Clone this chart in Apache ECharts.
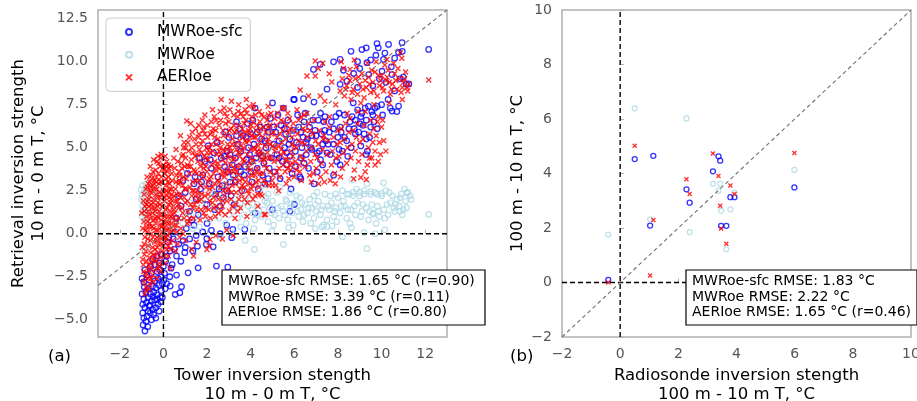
<!DOCTYPE html>
<html>
<head>
<meta charset="utf-8">
<script src="https://cdn.jsdelivr.net/npm/echarts@6/dist/echarts.min.js"></script>
<style>
html,body{margin:0;padding:0;background:#fff;}
#chart{width:917px;height:401px;}
</style>
</head>
<body>
<div id="chart"></div>
<script>
// ---------- tick labels ----------
const xTicksA = [-2, 0, 2, 4, 6, 8, 10, 12];
const yTicksA = [-5, -2.5, 0, 2.5, 5, 7.5, 10, 12.5];
const legendNames = ['MWRoe-sfc', 'MWRoe', 'AERIoe'];
const statsA = ['MWRoe-sfc RMSE: 1.65 °C (r=0.90)', 'MWRoe RMSE: 3.39 °C (r=0.11)', 'AERIoe RMSE: 1.86 °C (r=0.80)'];
const statsB = ['MWRoe-sfc RMSE: 1.83 °C', 'MWRoe RMSE: 2.22 °C', 'AERIoe RMSE: 1.65 °C (r=0.46)'];

// ---------- panel (a): tower vs retrieval ----------
const sfcA = [
[-0.85,-5.65],[-0.93,-5.3],[-0.8,-5.1],[-0.9,-4.9],[-0.75,-4.8],[-0.95,-4.6],[-0.7,-4.5],[-0.85,-4.3],[-0.6,-4.6],[-0.5,-4.4],[-0.95,-4.1],[-0.78,-4.0],[-0.62,-4.15],[-0.45,-4.7],[-0.35,-4.3],[-0.9,-3.8],[-0.7,-3.7],[-0.55,-3.9],[-0.4,-3.85],[-0.25,-4.1],[-0.15,-3.7],[-0.98,-3.5],[-0.8,-3.4],[-0.6,-3.5],[-0.45,-3.4],[-0.3,-3.55],[-0.1,-3.3],[-0.05,-3.7],[-0.88,-3.1],[-0.7,-3.2],[-0.5,-3.05],[-0.35,-3.15],[-0.2,-3.0],[-0.05,-2.9],[-0.9,-2.8],[-0.65,-2.7],[-0.4,-2.75],[-0.25,-2.6],[-0.1,-2.5],[0.02,-2.7],[-0.75,-2.4],[-0.55,-2.3],[-0.3,-2.2],[-0.15,-2.1],[0.05,-2.3],[-0.6,-1.9],[-0.4,-1.8],[-0.2,-1.7],[0.0,-1.9],[0.1,-1.6],[-0.5,-1.5],[-0.3,-1.3],[-0.1,-1.2],[0.15,-1.3],[-0.85,-2.1],[-0.98,-2.6],[-0.35,-4.9],[-0.55,-5.0],[-0.72,-5.4],[-0.2,-4.5],[-0.12,-3.95],[0.08,-3.2],[-0.65,-4.2],[-0.47,-3.65],[-0.28,-3.8],
[0.29,-2.5],[0.75,-3.43],[0.83,-3.08],[0.54,-3.53],[0.31,-3.04],[0.6,-1.3],[0.98,-1.1],[1.13,-2.27],[1.59,-1.98],[2.43,-1.88],[2.95,-1.94],[1.56,-0.72],[1.97,-0.62],[2.28,-0.76],[3.18,0.25],[3.73,0.25],[3.13,-0.23],[1.99,-0.29],[0.4,-1.8],[0.5,-0.9],[0.7,-0.6],[0.9,-0.4],[1.2,-0.3],[1.5,-0.1],[1.8,0.1],[2.2,0.2],[2.6,0.0],[0.3,-1.0],[0.2,-0.5],[0.45,-0.3],[0.8,-1.6],[1.0,-0.8],[1.35,-1.0],[0.35,-2.0],[0.6,-2.4],[0.15,-2.9],[0.25,-0.2],[0.55,0.1],[1.05,0.3],[1.4,0.5],[2.0,0.6],[2.9,0.5],[4.2,1.2],[5.0,1.4],[5.8,1.3],[6.0,1.7],
[0.6,0.9],[0.8,1.6],[1.0,2.4],[1.2,1.3],[1.4,2.9],[0.9,3.1],[1.3,0.8],[1.5,2.0],[0.7,2.2],[1.1,3.5],[1.45,3.3],
[1.6,1.1],[1.7,2.6],[1.8,3.4],[1.9,4.2],[2.0,1.7],[2.1,2.9],[2.2,3.8],[2.3,4.7],[2.4,2.3],[2.5,3.3],[1.65,4.4],[2.05,5.1],[2.35,1.4],[1.75,3.0],[2.15,4.3],[2.45,5.3],
[2.6,1.6],[2.7,2.8],[2.8,3.9],[2.9,4.8],[3.0,5.6],[3.1,2.2],[3.2,3.4],[3.3,4.4],[3.4,5.2],[3.5,6.1],[2.65,4.4],[2.85,5.9],[3.05,3.0],[3.25,1.7],[3.45,3.9],[2.75,2.1],[3.15,4.0],[3.35,6.5],[2.95,3.6],[3.55,4.8],
[3.6,2.5],[3.7,3.4],[3.8,4.3],[3.9,5.0],[4.0,5.8],[4.1,6.6],[4.2,7.3],[4.3,3.8],[4.4,4.7],[4.5,5.5],[3.65,5.7],[3.85,6.4],[4.05,3.0],[4.25,4.4],[4.45,6.2],[3.75,3.9],[4.15,5.2],[4.35,2.6],[3.95,4.6],[4.55,3.4],
[4.6,4.1],[4.7,5.0],[4.8,5.9],[4.9,6.7],[5.0,7.6],[5.1,3.6],[5.2,4.6],[5.3,5.4],[5.4,6.3],[5.5,7.3],[4.65,2.9],[4.85,3.8],[5.05,5.2],[5.25,6.9],[5.45,4.2],[4.75,6.2],[5.15,5.9],[5.35,3.2],[4.95,4.4],[5.55,5.0],
[5.6,5.8],[5.7,6.6],[5.8,4.5],[5.9,3.5],[6.0,7.8],[6.1,5.3],[6.2,6.2],[6.3,4.4],[6.4,5.6],[6.5,7.0],[5.65,4.0],[5.85,2.6],[6.05,4.8],[6.25,3.3],[6.45,6.5],[5.75,5.2],[6.15,6.9],[6.35,5.0],[5.95,6.0],[6.55,4.6],
[6.6,5.5],[6.7,6.2],[6.8,4.9],[6.9,2.9],[7.0,5.7],[7.1,6.6],[7.2,4.3],[7.3,5.2],[7.4,6.0],[7.5,4.7],[6.65,3.8],[6.85,6.6],[7.05,3.6],[7.25,5.8],[7.45,5.4],[6.75,5.0],[7.15,4.8],[7.35,6.5],
[7.6,5.9],[7.7,6.5],[7.8,5.2],[7.9,6.8],[8.0,5.6],[8.1,6.2],[8.2,4.8],[8.3,6.9],[8.4,5.4],[8.5,6.1],[8.6,5.0],[8.7,7.6],[8.8,6.6],[8.9,7.2],[9.0,6.4],[9.1,7.0],[9.2,5.8],[9.3,6.6],[9.4,7.4],[9.5,6.2],[9.6,6.9],[9.7,7.3],[9.8,7.4],[10.0,7.5],[10.3,7.8],[10.7,7.1],[7.65,4.6],[8.15,5.9],[8.65,6.8],[9.15,6.3],[9.45,5.6],[8.05,7.0],[8.45,4.5],[9.05,5.1],[9.35,4.8],[7.95,4.2],
[7.8,3.4],[9.3,4.6],[8.1,4.0],[6.3,3.2],
[2.55,2.6],[2.8,4.5],[3.05,4.6],[3.3,3.0],[3.55,3.6],[3.8,5.6],[4.05,4.2],[4.3,5.9],[4.55,4.5],[4.8,3.2],[5.05,6.2],[5.3,4.4],[5.55,6.1],[5.8,5.5],[6.05,3.9],[6.3,5.9],[6.55,5.3],[6.8,5.7],[7.05,4.7],[7.3,4.0],[7.55,5.2],[7.8,6.1],[8.05,4.9],[8.3,5.6],[8.55,6.5],[8.8,5.8],[9.05,6.8],[9.3,5.5],[9.55,7.1],[9.8,6.1],[10.05,6.9],[10.4,7.3],[8.75,6.1],[9.25,7.3],[9.65,6.5],[8.95,5.9],[7.4,6.8],[6.95,6.0],[6.45,4.1],[5.65,4.7],[4.65,5.4],[4.0,3.6],[3.35,5.7],[2.9,2.5],
[9.79,11.05],[10.32,11.0],[10.94,11.1],[12.16,10.71],[9.1,10.7],[9.3,10.8],[9.74,10.37],[8.1,10.13],[7.8,9.99],[8.9,10.0],[9.33,9.94],[10.09,10.13],[10.78,10.53],[11.13,8.68],[11.25,8.7],[10.78,7.42],[10.48,7.13],[6.88,9.55],[7.19,9.84],[6.42,7.85],[5.97,7.8],[8.1,8.68],[8.41,8.87],[8.72,9.31],[9.41,9.25],[10.02,9.44],[10.48,9.25],[8.9,8.5],[10.6,10.2],[10.85,9.0],[10.2,8.8],[9.6,8.6],[9.9,9.0],[10.45,9.7],[11.0,9.1],[8.6,10.6],[9.0,9.6],[10.6,8.3],[9.5,10.1],[8.25,9.5],[10.95,10.6],[9.85,10.8],[10.15,10.5],[7.5,8.4],[6.9,7.65],[7.2,7.0]
];

const mwrA = [
[-0.95,2.8],[-0.9,2.4],[-1.0,2.0],[-0.95,1.6],[-0.9,1.2],[-0.85,0.9],[-0.8,2.9],[-0.75,2.1],[-0.8,1.5],[-0.7,1.0],[-0.65,2.6],[-0.6,1.8],[-0.55,0.7],[-0.5,2.3],[-0.45,1.3],[-0.4,2.9],[-0.35,1.9],[-0.3,1.0],[-0.25,2.5],[-0.2,1.5],[-0.15,3.0],[-0.1,2.2],[-0.05,1.2],[0.0,2.7],[0.05,1.7],[-0.98,2.2],[-0.88,1.85],[-0.92,1.4],[-0.78,2.55],[-0.68,1.35],[-1.02,2.55],[-0.97,1.0],
[0.3,0.9],[0.6,1.4],[0.9,0.6],[1.2,1.8],[1.5,1.0],[1.8,2.2],[2.1,0.8],[2.4,1.5],[2.7,2.0],[3.0,1.1],[0.45,2.0],[1.05,1.2],[1.65,0.4],[2.25,2.4],[2.85,0.6],[0.2,0.3],[0.75,0.2],[1.35,0.3],[1.95,1.6],[2.55,0.9],
[3.2,1.3],[3.4,0.9],[3.5,1.8],[3.6,2.3],[3.7,1.1],[3.8,0.6],[3.9,1.6],[4.0,2.0],[4.1,1.2],[4.2,0.8],[4.3,1.7],[4.4,2.5],[4.5,1.0],[4.6,1.4],[4.7,2.1],[4.8,0.7],[4.9,1.5],[5.0,1.9],[5.1,1.1],[5.2,2.4],[5.3,0.9],[5.4,1.6],[5.5,1.3],[5.6,2.0],[5.7,0.8],[5.8,1.5],[5.9,1.2],[6.0,1.8],[6.1,2.2],[6.2,1.0],[6.3,1.4],[6.4,0.7],[6.5,1.7],[6.6,1.2],[6.7,2.0],[6.8,1.5],[6.9,0.9],[7.0,1.3],[7.1,1.9],[7.2,1.1],[7.3,1.6],[7.4,2.3],[7.5,0.8],[7.6,1.4],[7.7,1.8],[7.8,1.0],[7.9,1.5],[8.0,2.1],[8.1,1.2],[8.2,2.5],[8.3,1.6],[8.4,0.9],[8.5,2.3],[8.6,1.4],[8.7,2.4],[8.8,1.1],[8.9,1.8],[9.0,2.2],[9.1,1.3],[9.2,2.5],[9.3,1.5],[9.4,0.8],[9.5,2.3],[9.6,1.2],[9.7,2.4],[9.8,1.6],[9.9,1.0],[10.0,2.2],[10.1,1.4],[10.2,2.5],[10.3,1.1],[10.4,1.8],[10.5,2.2],[10.6,1.3],[10.7,2.0],[10.8,1.6],[10.9,2.3],[11.0,1.4],[11.1,1.9],[11.2,2.4],[11.3,2.2],
[3.3,2.0],[3.55,0.4],[3.85,2.7],[4.15,0.3],[4.55,2.8],[4.75,1.8],[5.05,0.5],[5.35,2.7],[5.65,1.9],[5.95,0.5],[6.27,2.1],[6.45,1.1],[6.75,0.6],[7.05,2.4],[7.35,0.5],[7.65,2.2],[7.95,0.7],[8.25,1.9],[8.64,3.12],[8.55,0.6],[8.85,2.6],[9.05,1.0],[9.33,2.9],[9.55,1.7],[9.75,0.6],[10.09,2.96],[10.35,2.4],[10.65,1.7],[10.85,2.1],[11.16,2.38],[10.95,1.1],[11.05,2.6],[8.4,2.3],[8.7,2.2],[9.0,2.4],[9.2,2.3],[9.5,2.45],[9.8,2.3],[10.0,2.35],[9.62,1.14],[10.15,0.9],
[3.45,1.5],[3.75,1.9],[4.05,1.4],[4.35,1.1],[4.65,1.9],[4.95,1.2],[5.25,1.5],[5.55,1.1],[5.85,1.7],[6.15,1.3],[6.35,1.8],[6.65,1.5],[6.95,1.7],[7.25,1.4],[7.55,1.6],[7.85,1.3],[8.15,1.6],[8.45,1.4],[8.75,1.6],[9.15,1.7],[9.45,1.3],[9.85,1.3],[10.25,1.7],[10.55,1.5],[10.85,1.3],[11.15,1.5],[11.35,2.0],[4.8,2.3],[5.8,2.4],[6.9,2.2],[7.9,2.3],
[4.17,-0.91],[5.5,-0.62],[9.33,-0.87],[8.21,-0.17],[9.71,0.0],[3.75,-0.39],[4.97,0.15],[5.74,0.35],[6.96,0.3],[7.27,0.4],[7.5,0.42],[7.73,0.45],[8.62,0.35],[9.2,0.07],[10.15,0.23],[12.16,1.12],[2.6,-0.2],[3.1,0.1]
];

const aerA = [
[-0.85,-3.5],[-0.8,-3.1],[-0.9,-2.8],[-0.7,-2.6],[-0.75,-2.3],[-0.6,-2.0],[-0.5,-2.4],[-0.4,-2.1],[-0.3,-2.6],[-0.2,-1.9],[-0.55,-1.7],[-0.65,-1.4],[-0.45,-1.2],[-0.35,-1.6],[-0.25,-1.1],[-0.15,-1.4],[-0.05,-1.0],[0.05,-1.3],[0.15,-0.9],[-0.8,-1.0],[-0.7,-0.7],[-0.6,-0.4],[-0.5,-0.8],[-0.4,-0.5],[-0.3,-0.2],[-0.2,-0.6],[-0.1,-0.3],[0.0,-0.7],[0.1,-0.4],[0.2,-0.1],[0.3,-0.5],[-0.85,-0.2],[-0.75,0.1],[-0.65,0.4],[-0.55,0.0],[-0.45,0.3],[-0.35,0.6],[-0.25,0.2],[-0.15,0.5],[-0.05,0.1],[0.05,0.4],[0.15,0.7],[0.25,0.3],[0.35,0.6],[0.45,0.2],[-0.9,0.7],[-0.8,1.0],[-0.7,1.3],[-0.6,0.9],[-0.5,1.2],[-0.4,1.5],[-0.3,1.0],[-0.2,1.3],[-0.1,0.8],[0.0,1.1],[0.1,1.4],[0.2,1.0],[0.3,1.3],[0.4,0.9],[0.5,1.2],[-0.85,1.6],[-0.75,1.9],[-0.65,2.2],[-0.55,1.7],[-0.45,2.0],[-0.35,2.3],[-0.25,1.8],[-0.15,2.1],[-0.05,1.6],[0.05,1.9],[0.15,2.2],[0.25,1.7],[0.35,2.0],[0.45,1.6],[0.55,1.9],[-0.8,2.6],[-0.7,2.9],[-0.6,2.5],[-0.5,2.8],[-0.4,3.1],[-0.3,2.6],[-0.2,2.9],[-0.1,3.3],[0.0,2.5],[0.1,2.8],[0.2,3.0],[0.3,2.6],[-0.55,3.4],[-0.35,3.7],[-0.15,3.9],[0.05,3.5],[0.25,3.8],[-0.45,4.3],[-0.25,4.5],[0.15,4.2],[-0.6,3.9],[0.0,4.0],[-0.75,3.3],[0.4,3.1],[-0.95,-1.5],[-0.95,0.3],[-1.0,1.2],[-0.9,-2.2],[-0.78,-3.3],[-0.62,-2.9],[-0.12,-2.2],[0.08,-1.7],[0.22,-1.3],[0.32,-2.0],[0.55,-1.0],[0.65,-0.6],[0.75,-0.2],[0.6,0.5],[0.7,0.9],[0.8,0.3],[0.9,0.0],[1.0,-0.4],[1.1,0.6],
[-0.82,-2.5],[-0.68,-1.8],[-0.58,-1.1],[-0.48,-0.2],[-0.38,0.9],[-0.28,1.6],[-0.18,2.4],[-0.08,3.0],[0.02,3.7],[0.12,3.2],[0.22,2.4],[0.32,1.8],[0.42,1.1],[0.52,0.5],[0.62,0.1],[-0.72,-0.3],[-0.62,0.6],[-0.52,1.5],[-0.42,2.6],[-0.32,3.3],[-0.22,4.1],[-0.12,4.4],[0.08,4.5],[0.18,3.6],[0.28,2.9],[0.38,2.3],[0.48,1.4],[0.58,0.8],[0.68,1.7],[0.78,2.1],[0.88,2.8],[0.98,3.9],[-0.88,-0.6],[-0.78,0.4],[-0.68,1.6],[-0.58,2.7],[-0.48,3.6],[-0.38,-1.3],[-0.28,-0.8],[-0.18,-0.1],[-0.08,0.4],[0.02,0.7],[0.12,-0.2],[0.22,-0.7],[0.32,0.1],[0.42,-0.4],[0.35,1.0],[-0.25,-2.0],[-0.45,-2.8],[-0.65,-3.2],[-0.92,-1.8],[-0.97,-0.8],[-0.92,1.9],[-0.88,2.3],
[-0.87,-1.2],[-0.77,-1.6],[-0.67,-2.1],[-0.57,-2.6],[-0.47,-1.5],[-0.37,-0.9],[-0.27,-0.4],[-0.17,-1.7],[-0.07,-0.6],[0.03,-0.2],[0.13,0.2],[0.23,0.6],[0.33,-0.9],[-0.83,0.2],[-0.73,0.7],[-0.63,1.1],[-0.53,0.4],[-0.43,0.8],[-0.33,0.2],[-0.23,0.9],[-0.13,1.1],[-0.03,0.5],[0.07,1.0],[0.17,1.5],[0.27,2.1],[0.37,2.6],[0.47,2.2],[-0.87,1.3],[-0.77,1.7],[-0.67,2.0],[-0.57,2.4],[-0.47,1.8],[-0.37,1.3],[-0.27,2.1],[-0.17,1.7],[-0.07,2.3],[0.03,2.1],[0.13,2.5],[0.23,3.3],[0.33,3.9],[-0.73,2.7],[-0.63,3.0],[-0.53,3.2],[-0.43,2.9],[-0.33,3.0],[-0.23,3.5],[-0.13,3.0],[-0.03,3.8],[0.13,3.9],[-0.3,4.2],[-0.1,4.6],[0.22,4.0],
[1.99,-0.91],[2.1,-0.7],[2.7,-0.3],[3.2,-0.1],[1.5,-0.5],[1.3,-0.9],[2.4,-0.1],[2.9,0.2],[1.38,-1.3],[2.14,-0.33],
[0.55,2.6],[0.6,3.4],[0.65,4.2],[0.7,1.5],[0.75,2.3],[0.8,3.0],[0.85,3.8],[0.9,4.6],[0.95,5.3],[1.0,1.8],[0.58,4.9],[0.68,2.9],[0.78,5.7],[0.88,1.2],[0.98,2.6],[0.52,3.8],[0.72,3.6],[0.92,3.3],
[0.62,2.3],[0.72,3.1],[0.82,4.1],[0.92,5.0],[0.48,4.4],[0.38,3.5],[0.58,3.0],[0.85,1.5],[0.95,0.9],
[1.05,3.2],[1.1,4.0],[1.15,4.8],[1.2,5.6],[1.25,6.4],[1.3,2.2],[1.35,3.0],[1.4,3.7],[1.45,4.5],[1.5,5.2],[1.07,6.55],[1.12,1.3],[1.22,2.7],[1.32,5.9],[1.42,1.7],[1.48,6.1],[1.18,3.5],[1.28,4.3],[1.38,0.9],[1.02,5.0],[1.4,2.5],[1.16,0.7],
[1.1,1.9],[1.2,0.9],[1.25,3.9],[1.3,5.0],[1.35,1.5],[1.45,2.2],[1.5,3.1],
[1.55,1.4],[1.6,2.3],[1.65,3.1],[1.7,3.9],[1.75,4.7],[1.8,5.4],[1.85,6.2],[1.9,6.9],[1.95,2.7],[2.0,3.6],[1.58,4.2],[1.63,5.8],[1.68,0.8],[1.73,2.0],[1.78,6.6],[1.83,3.3],[1.88,4.5],[1.93,1.5],[1.98,5.0],[1.53,3.5],[1.72,5.2],[1.9,2.2],
[1.55,4.6],[1.6,5.6],[1.65,1.9],[1.7,2.8],[1.75,3.5],[1.8,4.1],[1.85,1.2],[1.9,5.8],[1.95,3.9],[2.0,4.7],
[2.05,4.3],[2.1,5.0],[2.15,5.8],[2.2,6.5],[2.25,7.2],[2.3,2.1],[2.35,2.9],[2.4,3.7],[2.45,4.6],[2.5,5.5],[2.08,1.4],[2.13,2.6],[2.18,3.3],[2.23,4.0],[2.28,6.1],[2.33,6.8],[2.38,1.0],[2.43,5.2],[2.48,3.1],[2.02,6.3],[2.27,4.8],[2.46,2.3],
[2.05,2.3],[2.1,3.2],[2.15,0.9],[2.2,5.2],[2.25,1.8],[2.3,3.5],[2.35,4.2],[2.4,6.0],[2.45,1.6],[2.5,4.1],
[2.55,6.3],[2.6,7.1],[2.65,7.8],[2.7,1.6],[2.75,2.5],[2.8,3.3],[2.85,4.1],[2.9,4.9],[2.95,5.7],[3.0,6.5],[2.58,3.8],[2.63,4.6],[2.68,5.3],[2.73,6.0],[2.78,7.3],[2.83,1.1],[2.88,2.9],[2.93,3.7],[2.98,4.4],[2.52,2.0],[2.72,4.3],[2.91,6.8],[2.62,2.7],
[2.55,3.0],[2.6,5.0],[2.65,1.3],[2.7,3.6],[2.75,5.7],[2.8,2.2],[2.85,6.4],[2.9,1.9],[2.95,4.6],[3.0,2.6],
[3.05,7.2],[3.1,2.0],[3.15,2.8],[3.2,3.6],[3.25,4.4],[3.3,5.2],[3.35,6.0],[3.4,6.8],[3.45,7.5],[3.5,3.1],[3.03,1.3],[3.08,4.0],[3.13,4.8],[3.18,5.5],[3.23,6.3],[3.28,0.9],[3.33,2.4],[3.38,3.9],[3.43,4.7],[3.48,5.4],[3.12,7.7],[3.27,3.2],[3.46,2.0],
[3.05,5.0],[3.1,6.1],[3.15,1.6],[3.2,4.3],[3.25,5.9],[3.3,2.9],[3.35,3.6],[3.4,1.3],[3.45,6.3],[3.5,4.5],
[3.55,4.0],[3.6,4.8],[3.65,5.6],[3.7,6.4],[3.75,7.2],[3.8,7.8],[3.85,2.5],[3.9,3.3],[3.95,4.1],[4.0,4.9],[3.53,1.5],[3.58,2.3],[3.63,3.2],[3.68,5.0],[3.73,5.9],[3.78,6.6],[3.83,1.0],[3.88,3.8],[3.93,5.4],[3.98,6.1],[3.57,7.0],[3.72,2.7],[3.92,7.4],
[3.55,5.8],[3.6,2.8],[3.65,6.8],[3.7,4.2],[3.75,3.0],[3.8,5.3],[3.85,1.8],[3.9,6.0],[3.95,2.9],[4.0,3.7],
[4.05,5.7],[4.1,6.5],[4.15,7.3],[4.2,2.2],[4.25,3.0],[4.3,3.8],[4.35,4.6],[4.4,5.3],[4.45,6.1],[4.5,6.9],[4.03,2.6],[4.08,3.4],[4.13,4.2],[4.18,4.9],[4.23,5.6],[4.28,6.3],[4.33,1.6],[4.38,2.7],[4.43,3.5],[4.48,4.3],[4.12,7.5],[4.4,7.1],
[4.05,6.8],[4.1,2.0],[4.15,5.0],[4.2,3.4],[4.25,6.0],[4.3,4.8],[4.35,3.1],[4.4,5.8],[4.45,2.3],[4.5,4.6],
[4.55,3.5],[4.6,4.3],[4.65,5.1],[4.7,5.9],[4.75,6.6],[4.8,7.4],[4.85,2.8],[4.9,3.6],[4.95,4.4],[5.0,5.1],[4.52,2.2],[4.58,6.2],[4.62,1.1],[4.67,2.9],[4.72,3.8],[4.77,4.7],[4.82,5.5],[4.88,6.3],[4.93,7.0],[4.98,3.1],[4.68,1.12],
[4.6,3.1],[4.7,4.4],[4.8,6.2],[4.9,5.2],[5.0,2.8],
[0.65,1.9],[0.75,3.4],[0.85,4.5],[0.95,2.1],[1.05,2.6],[1.15,3.9],[1.25,1.7],[1.35,4.7],[1.45,3.6],[1.55,2.5],[1.65,4.9],[1.75,2.3],[1.85,3.8],[1.95,4.4],[2.05,3.0],[2.15,4.7],[2.25,2.7],[2.35,5.6],[2.45,3.9],[2.55,4.8],[2.65,3.4],[2.75,4.9],[2.85,3.5],[2.95,5.2],[3.05,3.6],[3.15,5.2],[3.25,3.8],[3.35,4.9],[3.45,3.4],[3.55,5.1],[3.65,4.3],[3.75,5.4],[3.85,4.6],[3.95,5.8],[4.05,4.4],[4.15,5.6],[4.25,3.6],[4.35,5.1],[4.45,4.8],[4.55,5.6],[4.65,4.0],[4.75,5.3],[4.85,4.4],[4.95,5.8],[1.02,4.4],[1.12,5.3],[1.42,5.5],[1.62,6.3],[1.82,6.0],[2.02,5.6],[2.22,5.9],[2.42,6.6],[2.62,6.6],[2.82,7.0],[3.02,6.0],[3.22,6.9],[3.42,7.1],[3.62,6.1],[3.82,7.0],[4.02,6.3],[4.22,6.9],[4.42,6.5],[4.62,6.8],[4.82,6.9],[1.32,2.5],[1.52,1.9],[1.72,1.4],[1.92,1.0],[2.12,1.9],[2.32,1.5],[2.52,1.2],[2.72,1.9],[2.92,2.5],[3.12,2.4],[3.32,1.7],[3.52,2.6],[3.72,2.0],[3.92,2.3],[4.12,2.8],[4.32,2.3],
[5.05,5.9],[5.1,6.7],[5.15,2.8],[5.2,3.6],[5.25,4.3],[5.3,5.1],[5.35,5.8],[5.4,6.6],[5.45,7.3],[5.5,4.0],[5.03,3.4],[5.08,4.2],[5.13,5.0],[5.18,6.3],[5.23,7.0],[5.28,2.5],[5.33,3.3],[5.38,4.6],[5.43,5.3],[5.48,6.0],
[5.1,4.8],[5.2,5.6],[5.3,3.8],[5.4,4.9],[5.5,6.5],
[5.55,4.7],[5.6,5.5],[5.65,6.3],[5.7,7.0],[5.75,3.2],[5.8,4.0],[5.85,4.8],[5.9,5.6],[5.95,6.4],[6.0,3.3],[5.58,3.6],[5.63,2.9],[5.68,4.3],[5.73,5.9],[5.78,6.7],[5.83,3.7],[5.88,5.2],[5.93,4.5],[5.98,6.0],[5.53,7.3],
[5.6,4.3],[5.7,3.8],[5.8,6.1],[5.9,4.1],[6.0,5.1],
[6.05,4.2],[6.1,5.0],[6.15,5.8],[6.2,6.6],[6.25,3.6],[6.3,4.5],[6.35,5.3],[6.4,6.1],[6.45,6.9],[6.5,3.9],[6.55,4.8],[6.6,5.6],[6.65,6.4],[6.7,3.4],[6.75,4.2],[6.8,5.0],[6.85,5.8],[6.9,6.6],[6.95,4.6],[7.0,3.8],[6.12,7.2],[6.32,3.1],[6.58,7.0],[6.78,3.0],[6.98,5.4],[6.22,4.0],[6.48,5.2],[6.72,6.0],[6.88,3.5],
[6.1,3.7],[6.2,5.4],[6.3,6.8],[6.4,4.3],[6.5,6.0],
[7.05,4.4],[7.1,5.2],[7.15,6.0],[7.2,3.3],[7.25,4.1],[7.3,4.9],[7.35,5.7],[7.4,6.5],[7.45,3.6],[7.5,4.6],[7.55,5.4],[7.6,6.2],[7.65,3.1],[7.7,4.0],[7.75,4.8],[7.8,5.6],[7.85,3.5],[7.9,4.4],[7.95,5.2],[8.0,6.0],[7.12,2.9],[7.38,3.0],[7.62,6.8],[7.88,2.9],[7.32,5.5],
[8.05,4.5],[8.1,5.3],[8.15,6.1],[8.2,3.8],[8.25,4.7],[8.3,5.5],[8.35,6.4],[8.4,4.1],[8.45,5.0],[8.5,5.9],[8.55,6.7],[8.6,4.4],[8.65,5.2],[8.7,6.0],[8.75,3.7],[8.8,4.8],[8.85,5.6],[8.9,6.4],[8.95,4.2],[9.0,5.3],[8.12,3.3],[8.42,7.0],[8.72,3.2],[8.92,7.1],
[9.05,3.27],[9.3,3.15],[9.1,4.6],[9.15,5.5],[9.2,6.3],[9.25,7.1],[9.35,4.0],[9.4,5.0],[9.45,5.8],[9.5,6.6],[9.55,4.4],[9.6,5.3],[9.65,6.1],[9.7,4.8],[9.75,5.7],[9.8,6.5],[9.85,4.2],[9.9,5.3],[9.95,4.6],[10.0,6.2],[10.1,5.4],[10.2,4.8],[9.7,4.0],[9.25,3.6],[9.45,4.4],[9.85,6.8],[10.05,6.6],
[6.96,10.04],[6.58,9.16],[6.96,9.16],[6.27,8.35],[6.65,8.0],[7.19,8.0],[7.72,8.81],[8.56,9.55],[10.86,10.52],[10.93,10.2],[12.16,8.93],[11.16,8.49],[11.25,8.7],[10.25,10.13],[7.1,9.6],[7.4,7.7],[7.9,7.5],[8.1,8.3],[8.2,9.0],[8.3,8.0],[8.4,8.6],[8.5,9.2],[8.6,7.8],[8.7,8.4],[8.8,9.0],[8.9,8.1],[9.0,8.7],[9.1,9.3],[9.2,7.9],[9.3,8.5],[9.4,9.1],[9.5,8.2],[9.6,8.8],[9.7,9.4],[9.8,8.0],[9.9,8.6],[10.0,9.2],[10.1,8.3],[10.2,8.9],[10.3,9.5],[10.4,8.1],[10.5,8.7],[10.6,9.3],[10.7,8.4],[10.8,9.0],[10.9,8.2],[11.0,8.8],[11.1,9.4],[8.25,9.6],[8.85,9.7],[9.35,9.9],[9.75,10.0],[10.15,9.8],[10.55,9.9],[9.05,7.6],[9.65,7.5],[10.35,7.6],[10.95,7.8],[8.15,10.0],[8.75,10.1],[7.3,9.9],[7.6,9.3],
[8.35,8.4],[8.55,8.9],[8.95,9.1],[9.15,8.4],[9.45,8.7],[9.55,9.5],[9.85,9.2],[10.05,8.5],[10.25,9.1],[10.45,8.4],[10.65,8.9],[10.75,9.6],[10.95,8.5],[11.05,9.0],[11.2,8.3],[9.25,8.9],[9.65,8.3],[10.35,8.8],[8.65,8.2],[9.95,8.9]
];

// ---------- panel (b): radiosonde vs retrieval ----------
const sfcB = [[-0.41,0.10],[0.50,4.53],[1.14,4.65],[1.03,2.09],[2.28,3.42],[2.39,2.93],[3.19,4.08],[3.38,4.63],[3.44,4.47],[3.79,3.13],[3.93,3.13],[3.47,2.08],[3.65,2.08],[5.99,3.49]];
const mwrB = [[-0.41,1.76],[0.50,6.39],[2.28,6.02],[1.03,2.32],[2.39,1.85],[3.19,3.62],[3.38,3.37],[3.44,3.62],[3.47,2.63],[3.79,2.68],[3.93,3.30],[3.65,1.22],[5.99,4.13]];
const aerB = [[-0.41,0.0],[0.50,5.02],[1.14,2.29],[1.03,0.26],[2.28,3.79],[2.39,3.25],[3.19,4.73],[3.38,3.91],[3.44,2.82],[3.47,1.98],[3.79,3.56],[3.93,3.25],[3.65,1.42],[5.99,4.75]];

// reference lines
const zeroLineA_h = [[-3,0],[13,0]];
const zeroLineA_v = [[0,-6],[0,13]];
const oneToOneA = [[-3,-3],[13,13]];
const zeroLineB_h = [[-2,0],[10,0]];
const zeroLineB_v = [[0,-2],[0,10]];
const oneToOneB = [[-2,-2],[10,10]];

const FONT = 'DejaVu Sans';
const minus = s => String(s).replace('-', '\u2212');
const xSym = 'path://M0,0L10,10M10,0L0,10';

function axisCommon(extra) {
  return Object.assign({
    splitLine: {show: false},
    axisLine: {show: false},
    axisTick: {show: true, inside: true, length: 4, lineStyle: {color: '#b0b0b0', width: 1}},
    axisLabel: {color: '#555555', fontSize: 14, fontFamily: FONT, margin: 10},
    nameTextStyle: {color: '#000', fontSize: 16.5, fontFamily: FONT, lineHeight: 19}
  }, extra);
}

function scatter(name, data, idx, kind, size) {
  const s = {
    name: name, type: 'scatter', data: data,
    xAxisIndex: idx, yAxisIndex: idx,
    emphasis: {disabled: true},
    symbolSize: size
  };
  if (kind === 'blue') {
    s.symbol = 'circle';
    s.itemStyle = {color: 'rgba(0,0,0,0)', borderColor: '#0000ff', borderWidth: 1.3};
  } else if (kind === 'light') {
    s.symbol = 'circle';
    s.itemStyle = {color: 'rgba(0,0,0,0)', borderColor: '#add8e6', borderWidth: 1.2};
  } else {
    s.symbol = xSym;
    s.symbolKeepAspect = true;
    s.itemStyle = {color: 'rgba(0,0,0,0)', borderColor: '#ff0000', borderWidth: 1.4};
  }
  return s;
}

function refLine(data, idx, color, width, dash) {
  return {
    type: 'line', data: data, xAxisIndex: idx, yAxisIndex: idx,
    symbol: 'none', silent: true, z: 10,
    lineStyle: {color: color, width: width, type: dash},
    emphasis: {disabled: true}
  };
}

const chart = echarts.init(document.getElementById('chart'), null, {renderer: 'canvas'});

function statBox(x, y, w, h, lines) {
  return [
    {type: 'rect', z: 100, shape: {x: x, y: y, width: w, height: h},
     style: {fill: '#ffffff', stroke: '#000000', lineWidth: 1.2}},
    {type: 'text', z: 101, x: x + 6, y: y + 4,
     style: {text: lines.join('\n'), font: '14px "DejaVu Sans"', fill: '#000', lineHeight: 15.5}}
  ];
}

const gridCommon = {top: 10, width: 349, height: 327, show: true, borderColor: '#b0b0b0', borderWidth: 1.5, backgroundColor: 'rgba(0,0,0,0)', containLabel: false, outerBoundsMode: 'none'};

const option = {
  animation: false,
  backgroundColor: '#ffffff',
  textStyle: {fontFamily: FONT},
  grid: [
    Object.assign({left: 98}, gridCommon),
    Object.assign({left: 562}, gridCommon)
  ],
  xAxis: [
    axisCommon({
      type: 'value', gridIndex: 0, min: -3, max: 13,
      axisTick: {show: true, inside: true, length: 4, lineStyle: {color: '#b0b0b0'}, customValues: xTicksA},
      axisLabel: {color: '#555555', fontSize: 14, fontFamily: FONT, margin: 10, customValues: xTicksA, formatter: v => minus(v)},
      name: 'Tower inversion stength\n10 m - 0 m T, °C', nameLocation: 'middle', nameGap: 26
    }),
    axisCommon({
      type: 'value', gridIndex: 1, min: -2, max: 10, interval: 2,
      axisLabel: {color: '#555555', fontSize: 14, fontFamily: FONT, margin: 10, formatter: v => minus(v), showMinLabel: true, showMaxLabel: true},
      name: 'Radiosonde inversion stength\n100 m - 10 m T, °C', nameLocation: 'middle', nameGap: 26
    })
  ],
  yAxis: [
    axisCommon({
      type: 'value', gridIndex: 0, min: -6, max: 13,
      axisTick: {show: true, inside: true, length: 4, lineStyle: {color: '#b0b0b0'}, customValues: yTicksA},
      axisLabel: {color: '#555555', fontSize: 14, fontFamily: FONT, margin: 10, customValues: yTicksA, formatter: v => minus(Number(v).toFixed(1))},
      name: 'Retrieval inversion strength\n10 m - 0 m T, °C', nameLocation: 'middle', nameGap: 49,
      nameTextStyle: {color: '#000', fontSize: 16.5, fontFamily: FONT, lineHeight: 20}
    }),
    axisCommon({
      type: 'value', gridIndex: 1, min: -2, max: 10, interval: 2,
      axisLabel: {color: '#555555', fontSize: 14, fontFamily: FONT, margin: 10, formatter: v => minus(v), showMinLabel: true, showMaxLabel: true},
      name: '100 m - 10 m T, °C', nameLocation: 'middle', nameGap: 18
    })
  ],
  legend: {
    data: legendNames,
    orient: 'vertical',
    left: 106, top: 18,
    padding: [4, 8, 4, 19],
    itemWidth: 6, itemHeight: 6, itemGap: 2.7,
    backgroundColor: 'rgba(255,255,255,0.85)',
    borderColor: '#cccccc', borderWidth: 1, borderRadius: 4,
    selectedMode: false,
    textStyle: {color: '#000', fontSize: 15.5, fontFamily: FONT, lineHeight: 20, padding: [0, 0, 0, 20]}
  },
  series: [
    scatter(legendNames[0], sfcA, 0, 'blue', 5.5),
    scatter(legendNames[1], mwrA, 0, 'light', 5.5),
    scatter(legendNames[2], aerA, 0, 'red', 5),
    refLine(zeroLineA_h, 0, '#000000', 1.4, [5, 3]),
    refLine(zeroLineA_v, 0, '#000000', 1.4, [5, 3]),
    refLine(oneToOneA, 0, '#707070', 1.1, [4, 3]),
    scatter(legendNames[0], sfcB, 1, 'blue', 5),
    scatter(legendNames[1], mwrB, 1, 'light', 5),
    scatter(legendNames[2], aerB, 1, 'red', 4),
    refLine(zeroLineB_h, 1, '#000000', 1.4, [5, 3]),
    refLine(zeroLineB_v, 1, '#000000', 1.4, [5, 3]),
    refLine(oneToOneB, 1, '#707070', 1.1, [4, 3])
  ],
  graphic: [].concat(
    statBox(222, 270, 263, 55, statsA),
    statBox(686, 270, 231, 55, statsB),
    [
      {type: 'text', z: 100, x: 48, y: 348, style: {text: '(a)', font: '16.5px "DejaVu Sans"', fill: '#000'}},
      {type: 'text', z: 100, x: 510, y: 348, style: {text: '(b)', font: '16.5px "DejaVu Sans"', fill: '#000'}}
    ]
  )
};
chart.setOption(option);
</script>
</body>
</html>
